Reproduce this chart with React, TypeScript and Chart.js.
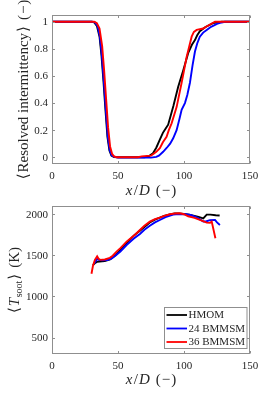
import React, { useEffect, useRef } from "react";
import { Chart, registerables } from "chart.js";
Chart.register(...registerables);

// ---------- data ----------
const seriesNames = ["HMOM", "24 BMMSM", "36 BMMSM"];
const seriesColors = ["#000000", "#0000ff", "#ff0000"];
const xTicks = [0, 50, 100, 150];
const xTickLabels = ["0", "50", "100", "150"];
const topYTicks = [0, 0.2, 0.4, 0.6, 0.8, 1];
const topYTickLabels = ["0", "0.2", "0.4", "0.6", "0.8", "1"];
const bottomYTicks = [500, 1000, 1500, 2000];
const bottomYTickLabels = ["500", "1000", "1500", "2000"];

// Resolved intermittency
const hmomIntX = [0, 30, 32, 34, 36, 37.5, 39, 40.5, 42, 43.5, 45, 47, 50, 60, 70, 73, 76.5, 79, 81.7, 84, 86, 88, 90, 92, 95.6, 99.4, 103.2, 106, 108.3, 110, 112, 116, 122, 128.5, 150];
const hmomIntY = [1, 1, 0.995, 0.97, 0.89, 0.75, 0.56, 0.35, 0.15, 0.05, 0.012, 0.002, 0, 0, 0, 0.005, 0.03, 0.07, 0.13, 0.18, 0.21, 0.24, 0.31, 0.38, 0.52, 0.64, 0.77, 0.83, 0.865, 0.9, 0.93, 0.96, 0.99, 1, 1];
const bmm24IntX = [0, 30.5, 32.5, 34.5, 36.3, 37.8, 39.3, 40.8, 42.3, 43.8, 45.3, 47.5, 50, 60, 75, 79, 81, 84.2, 87, 89.5, 91.8, 94.4, 96.5, 98.2, 100.7, 102.5, 104.5, 106.5, 108.3, 110, 112, 114.5, 117.2, 120, 122, 125, 128.5, 131, 150];
const bmm24IntY = [1, 1, 0.995, 0.97, 0.89, 0.75, 0.56, 0.35, 0.15, 0.05, 0.012, 0.002, -0.003, -0.003, -0.003, 0.003, 0.012, 0.04, 0.07, 0.1, 0.14, 0.2, 0.28, 0.35, 0.4, 0.46, 0.55, 0.68, 0.78, 0.84, 0.89, 0.92, 0.94, 0.96, 0.97, 0.985, 0.995, 1, 1];
const bmm36IntX = [0, 32, 34, 36, 38, 39.5, 41, 42.5, 44, 45.5, 47, 49, 60, 65, 68, 72, 75, 77, 79, 81.7, 84, 86.8, 88.5, 90.6, 94.4, 98.2, 102, 104, 105.8, 107.5, 109.6, 114.6, 117, 119.7, 123.5, 150];
const bmm36IntY = [1, 1, 0.99, 0.95, 0.82, 0.64, 0.43, 0.22, 0.08, 0.025, 0.006, 0, 0, 0, 0.006, 0.01, 0.012, 0.025, 0.04, 0.066, 0.11, 0.15, 0.2, 0.25, 0.37, 0.55, 0.74, 0.82, 0.89, 0.925, 0.94, 0.95, 0.965, 0.98, 1, 1];

// Soot temperature
const hmomTX = [31, 32.4, 34, 36, 40, 44, 48, 52, 56.5, 62, 66.6, 70, 74.1, 78, 81.7, 85, 89.3, 93, 96, 100, 104, 108, 111, 114.6, 117.2, 120, 124, 127];
const hmomTY = [1380, 1403, 1420, 1425, 1430, 1450, 1500, 1565, 1650, 1740, 1800, 1845, 1900, 1935, 1960, 1980, 1998, 2008, 2010, 2002, 1995, 1980, 1968, 1950, 1995, 1995, 1988, 1985];
const bmm24TX = [32, 33.2, 34.2, 35.5, 38, 42, 45, 48, 52, 56.5, 62, 66.6, 70, 74.1, 78, 81.7, 86, 91.8, 96, 101.4, 105, 108.3, 111, 114.6, 117, 119.7, 123.5, 125, 127.2];
const bmm24TY = [1400, 1430, 1458, 1445, 1440, 1442, 1460, 1495, 1550, 1625, 1705, 1760, 1810, 1860, 1900, 1930, 1965, 1995, 2003, 2000, 1990, 1972, 1950, 1912, 1915, 1928, 1930, 1900, 1868];
const bmm36TX = [29.9, 31, 32.5, 34.2, 35.3, 36.5, 40, 43.8, 46, 48.9, 52, 56.5, 62.8, 66.6, 70, 74.1, 78, 81.7, 85, 89.3, 93, 96.9, 100, 103.2, 108, 112, 117.2, 119.7, 121, 123.8];
const bmm36TY = [1276, 1370, 1445, 1487, 1458, 1445, 1450, 1470, 1495, 1545, 1590, 1666, 1750, 1808, 1860, 1910, 1940, 1958, 1980, 1999, 2008, 2011, 2000, 1975, 1955, 1930, 1898, 1895, 1910, 1707];

// ---------- styling ----------
const SERIF = "'Liberation Serif', 'DejaVu Serif', 'DejaVu Sans', serif";
const TEXT_COLOR = "#262626";
const FRAME_COLOR = "#8f8f8f";
const W = 263;

type Seg = { t: string; s: number; it?: boolean; dx?: number; dy?: number };

function segFont(sg: Seg) {
  return `${sg.it ? "italic " : ""}${sg.s}px ${SERIF}`;
}

function drawSegs(ctx: CanvasRenderingContext2D, segs: Seg[], cx: number, base: number) {
  let total = 0;
  const widths: number[] = [];
  for (const sg of segs) {
    ctx.font = segFont(sg);
    const w = ctx.measureText(sg.t).width;
    widths.push(w);
    total += (sg.dx || 0) + w;
  }
  let x = cx - total / 2;
  ctx.textAlign = "left";
  ctx.textBaseline = "alphabetic";
  segs.forEach((sg, i) => {
    x += sg.dx || 0;
    ctx.font = segFont(sg);
    ctx.fillText(sg.t, x, base + (sg.dy || 0));
    x += widths[i];
  });
}

const xTitle: Seg[] = [
  { t: "x", s: 15, it: true },
  { t: "/", s: 15, dx: 1.5 },
  { t: "D", s: 15, it: true, dx: 1 },
  { t: "(", s: 15, dx: 6 },
  { t: "\u2212", s: 15, dx: 1 },
  { t: ")", s: 15, dx: 1 },
];
const topYTitle: Seg[] = [
  { t: "\u27E8", s: 15 },
  { t: "Resolved intermittency", s: 15, dx: 1 },
  { t: "\u27E9", s: 15, dx: 1 },
  { t: "(", s: 15, dx: 6 },
  { t: "\u2212", s: 15, dx: 1 },
  { t: ")", s: 15, dx: 1 },
];
const bottomYTitle: Seg[] = [
  { t: "\u27E8", s: 15 },
  { t: "T", s: 15, it: true, dx: 1 },
  { t: "soot", s: 10, dy: 3, dx: 0.5 },
  { t: "\u27E9", s: 15, dx: 1 },
  { t: "(K)", s: 15, dx: 6 },
];

type Decor = {
  yTitle: Seg[];
  yTitleBase: number;
  xTitleBase: number;
  legend: boolean;
  yLabels: string[];
};

function makeDecor(d: Decor) {
  return {
    id: "decor",
    afterDraw(chart: any) {
      const { ctx, chartArea: a, scales } = chart;
      const xs = scales.x;
      const ys = scales.y;
      ctx.save();
      // frame
      ctx.strokeStyle = FRAME_COLOR;
      ctx.lineWidth = 1;
      const L = Math.round(a.left) + 0.5;
      const R = Math.round(a.right) - 0.5;
      const T = Math.round(a.top) + 0.5;
      const B = Math.round(a.bottom) - 0.5;
      ctx.strokeRect(L, T, R - L, B - T);
      // inward ticks
      ctx.beginPath();
      const tl = 2.5;
      xTicks.forEach((v) => {
        const px = Math.round(xs.getPixelForValue(v)) + 0.5;
        ctx.moveTo(px, B);
        ctx.lineTo(px, B - tl);
        ctx.moveTo(px, T);
        ctx.lineTo(px, T + tl);
      });
      const yVals: number[] = ys.ticks.map((t: any) => t.value);
      yVals.forEach((v) => {
        const py = Math.round(ys.getPixelForValue(v)) + 0.5;
        ctx.moveTo(L, py);
        ctx.lineTo(L + tl, py);
        ctx.moveTo(R, py);
        ctx.lineTo(R - tl, py);
      });
      ctx.stroke();

      // tick labels
      ctx.fillStyle = TEXT_COLOR;
      ctx.font = `11px ${SERIF}`;
      ctx.textBaseline = "middle";
      ctx.textAlign = "center";
      xTicks.forEach((v, i) => {
        ctx.fillText(xTickLabels[i], xs.getPixelForValue(v), a.bottom + 12);
      });
      ctx.textAlign = "right";
      yVals.forEach((v, i) => {
        const lbl = d.yLabels[i] ?? String(v);
        ctx.fillText(lbl, a.left - 4, ys.getPixelForValue(v) + 0.5);
      });

      // titles
      drawSegs(ctx, xTitle, (a.left + a.right) / 2, d.xTitleBase);
      ctx.save();
      ctx.translate(d.yTitleBase, (a.top + a.bottom) / 2);
      ctx.rotate(-Math.PI / 2);
      drawSegs(ctx, d.yTitle, 0, 0);
      ctx.restore();

      // legend
      if (d.legend) {
        const bw = 82.5;
        const bh = 41;
        const bx = Math.round(a.right - 4 - bw) + 0.5;
        const by = Math.round(a.bottom - 6 - bh) + 0.5;
        ctx.fillStyle = "#ffffff";
        ctx.fillRect(bx, by, bw, bh);
        ctx.strokeStyle = FRAME_COLOR;
        ctx.lineWidth = 1;
        ctx.strokeRect(bx, by, bw, bh);
        seriesNames.forEach((name, i) => {
          const cy = by + 7.5 + i * 13.5;
          ctx.strokeStyle = seriesColors[i];
          ctx.lineWidth = 1.8;
          ctx.beginPath();
          ctx.moveTo(bx + 2, cy);
          ctx.lineTo(bx + 22.5, cy);
          ctx.stroke();
          ctx.fillStyle = TEXT_COLOR;
          ctx.font = `11px ${SERIF}`;
          ctx.textAlign = "left";
          ctx.textBaseline = "middle";
          ctx.fillText(name, bx + 24, cy + 0.5);
        });
      }
      ctx.restore();
    },
  };
}

function pts(xs: number[], ys: number[]) {
  return xs.map((x, i) => ({ x, y: ys[i] }));
}

type PanelProps = {
  height: number;
  data: { x: number; y: number }[][];
  yMin: number;
  yMax: number;
  yTicks: number[];
  padTop: number;
  xAxisH: number;
  decor: Decor;
};

function Panel(p: PanelProps) {
  const ref = useRef<HTMLCanvasElement>(null);
  useEffect(() => {
    if (!ref.current) return;
    const chart = new Chart(ref.current, {
      type: "line",
      data: {
        datasets: p.data.map((d, i) => ({
          label: seriesNames[i],
          data: d,
          borderColor: seriesColors[i],
          backgroundColor: seriesColors[i],
          borderWidth: 1.9,
          pointRadius: 0,
          tension: 0,
          fill: false,
          order: 3 - i,
        })),
      },
      options: {
        responsive: false,
        animation: false,
        devicePixelRatio: 1,
        layout: { padding: { left: 0, right: 13, top: p.padTop, bottom: 0 } },
        plugins: { legend: { display: false }, tooltip: { enabled: false } },
        scales: {
          x: {
            type: "linear",
            min: 0,
            max: 150,
            grid: { display: false, drawTicks: false, tickLength: 0 },
            border: { display: false },
            ticks: { display: false, autoSkip: false },
            afterBuildTicks: (s: any) => {
              s.ticks = xTicks.map((v) => ({ value: v }));
            },
            afterFit: (s: any) => {
              s.height = p.xAxisH;
              s.paddingLeft = 0;
              s.paddingRight = 0;
            },
          },
          y: {
            type: "linear",
            min: p.yMin,
            max: p.yMax,
            grid: { display: false, drawTicks: false, tickLength: 0 },
            border: { display: false },
            ticks: { display: false, autoSkip: false },
            afterBuildTicks: (s: any) => {
              s.ticks = p.yTicks.map((v) => ({ value: v }));
            },
            afterFit: (s: any) => {
              s.width = 52;
              s.paddingTop = 0;
              s.paddingBottom = 0;
            },
          },
        },
      } as any,
      plugins: [makeDecor(p.decor)],
    });
    return () => chart.destroy();
  }, []);
  return <canvas ref={ref} width={W} height={p.height} style={{ display: "block", width: W, height: p.height }} />;
}

export default function App() {
  return (
    <div style={{ position: "absolute", left: 0, top: 0, width: W, height: 395, background: "#ffffff" }}>
      <Panel
        height={201}
        data={[pts(hmomIntX, hmomIntY), pts(bmm24IntX, bmm24IntY), pts(bmm36IntX, bmm36IntY)]}
        yMin={-0.05}
        yMax={1.05}
        yTicks={topYTicks}
        padTop={15}
        xAxisH={37}
        decor={{ yTitle: topYTitle, yTitleBase: 28, xTitleBase: 195.4, legend: false, yLabels: topYTickLabels }}
      />
      <Panel
        height={194}
        data={[pts(hmomTX, hmomTY), pts(bmm24TX, bmm24TY), pts(bmm36TX, bmm36TY)]}
        yMin={300}
        yMax={2100}
        yTicks={bottomYTicks}
        padTop={5}
        xAxisH={41}
        decor={{ yTitle: bottomYTitle, yTitleBase: 19, xTitleBase: 183.4, legend: true, yLabels: bottomYTickLabels }}
      />
    </div>
  );
}
